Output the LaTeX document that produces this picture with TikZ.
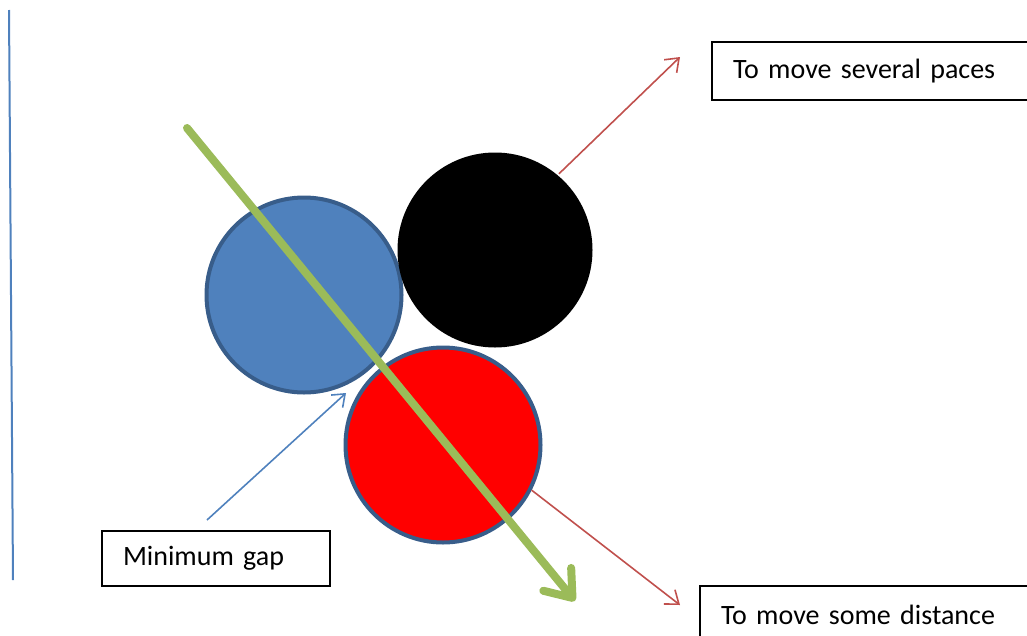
\documentclass[tikz,border=0pt]{standalone}
\usepackage{fontspec}
\setmainfont{Carlito}
\usepackage{tikz}
\usetikzlibrary{arrows.meta,positioning,calc}
\definecolor{figblue}{RGB}{79,129,189}
\definecolor{figedge}{RGB}{56,93,138}
\definecolor{figred}{RGB}{192,80,77}
\definecolor{figgreen}{RGB}{155,187,89}
\tikzset{
  ball/.style={circle, minimum size=195pt, inner sep=0pt, line width=4pt},
  notebox/.style={draw=black, line width=2pt, anchor=north west, inner xsep=21pt, inner ysep=0pt, align=left, font=\fontsize{28}{32}\selectfont},
  redline/.style={-{Straight Barb[length=12pt,width=18pt]}, draw=figred, line width=1.6pt},
  blueline/.style={-{Straight Barb[length=11pt,width=17pt]}, draw=figblue, line width=1.6pt},
  pathline/.style={-{Straight Barb[length=24pt,width=36pt,round]}, draw=figgreen, line width=8pt, line cap=round}
}
\begin{document}
\begin{tikzpicture}[x=1pt,y=-1pt]
  \useasboundingbox (0,0) rectangle (1027,635);
  \clip (0,0) rectangle (1027,635);
  % vertical rule at the left
  \coordinate (ruletop) at (9,10);
  \coordinate (rulebot) at (13,580);
  \draw[figblue, line width=2pt] (ruletop) -- (rulebot);

  % the three balls
  \node[ball, draw=figedge, fill=figblue] (blueball) at (304,295) {};
  \node[ball, fill=black] (blackball) at (495,250) {};
  \node[ball, draw=figedge, fill=red] (redball) at (443,445) {};

  % labels
  \node[notebox, minimum width=340pt, minimum height=58pt, text width=298pt] (paces) at (711,41) {To move several paces};
  \node[notebox, minimum width=350pt, minimum height=58pt, text width=308pt] (distance) at (699,585) {To move some distance};
  \node[notebox, minimum width=228pt, minimum height=55pt, text width=186pt] (gap) at (101,530) {Minimum gap};

  % arrows
  \coordinate (pacesend) at (680,57);
  \coordinate (distanceend) at (680,605);
  \coordinate (gapend) at (346,393);
  \coordinate (gapstart) at ($(gap.north west)+(106,-10)$);
  \draw[redline] (blackball.50) -- (pacesend);
  \draw[redline] (redball.-27) -- (distanceend);
  \draw[blueline] (gapstart) -- (gapend);

  \coordinate (pathstart) at (187,128);
  \coordinate (pathend) at (575,601);
  \draw[pathline] (pathstart) -- (pathend);
\end{tikzpicture}
\end{document}
